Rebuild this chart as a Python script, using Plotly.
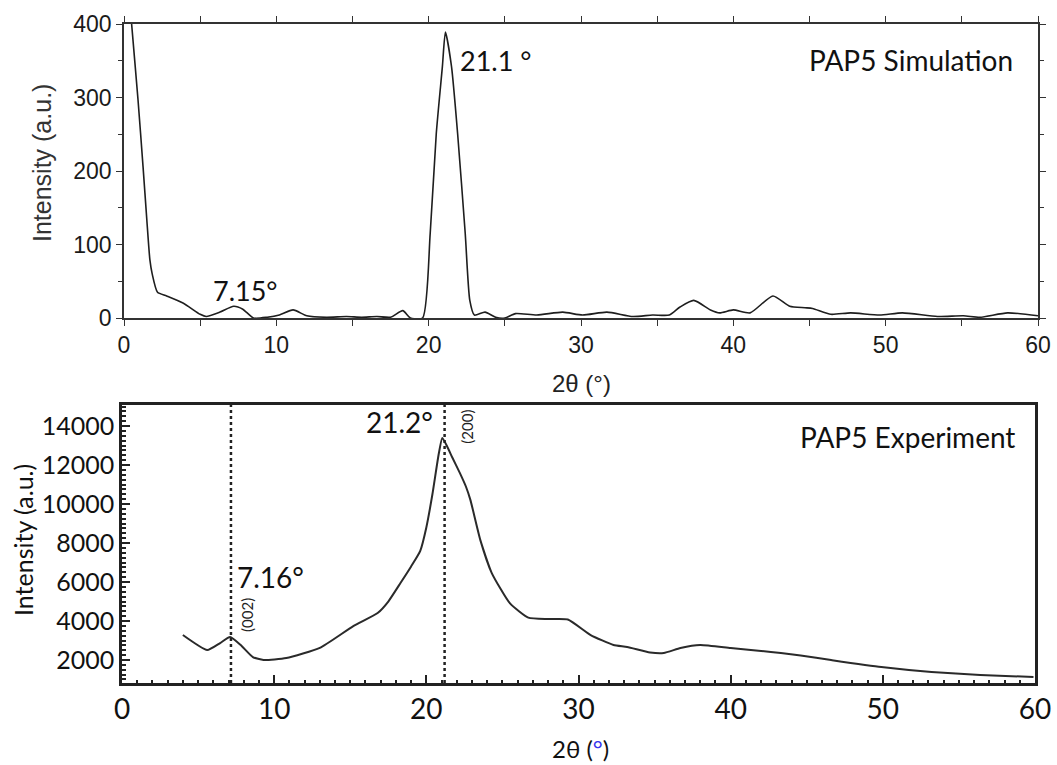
import plotly.graph_objects as go

# PAP5 simulated pattern
sim_x = [0.35, 0.5, 0.92, 1.25, 1.5, 1.7, 1.85, 2.2, 2.8, 3.9, 5.0, 5.4, 6.3, 7.2, 7.8, 8.5,
         9.4, 10.2, 11.1, 12.0, 13.3, 14.6, 15.6, 16.6, 17.5, 18.3, 18.8, 19.6, 20.1, 20.5,
         20.9, 21.1, 21.5, 21.9, 22.4, 22.7, 23.0, 23.7, 24.4, 25.0, 25.7, 27.1, 28.8, 30.1,
         31.7, 33.4, 34.7, 35.8, 36.5, 37.4, 38.5, 39.1, 40.0, 41.1, 42.6, 43.7, 44.7, 45.2,
         46.4, 47.7, 49.6, 51.1, 53.4, 55.1, 56.2, 58.0, 60.0]
sim_y = [440, 400, 297, 206, 133, 79, 60, 35, 30, 20, 5, 2, 8, 16, 12, 0,
         1, 4, 11, 3, 1, 2, 1, 2, 1, 10, 0, 0, 115, 251,
         342, 389, 342, 251, 115, 24, 4, 8, 1, 0, 6, 4, 8, 4,
         8, 2, 4, 4, 15, 24, 11, 7, 11, 7, 30, 16, 14, 13,
         5, 7, 4, 7, 2, 3, 1, 7, 3]

# PAP5 measured pattern
exp_x = [4.0, 5.6, 6.45, 7.1, 7.8, 8.6, 9.3, 10.8, 13.0, 15.2, 16.8, 17.5, 18.3, 19.0, 19.6,
         20.0, 20.4, 20.8, 21.05, 21.4, 21.7, 22.2, 22.6, 22.9, 23.55, 24.3, 25.5, 26.7,
         28.0, 29.3, 30.8, 32.3, 33.2, 34.7, 35.6, 36.7, 38.0, 40.0, 42.0, 43.3, 44.6, 46.6,
         49.9, 53.2, 56.4, 59.9]
exp_y = [3280, 2510, 2870, 3180, 2770, 2150, 2000, 2100, 2620, 3740, 4410, 5000, 5950, 6800, 7600,
         8800, 10500, 12500, 13390, 12900, 12400, 11600, 10900, 10200, 8150, 6460, 4900, 4170,
         4100, 4080, 3280, 2770, 2670, 2390, 2360, 2615, 2770, 2615, 2460, 2360, 2230, 2000,
         1640, 1385, 1230, 1130]

sim_peaks = [7.15, 21.1]
exp_peaks = [7.16, 21.2]
exp_hkl = ['(002)', '(200)']

W, H = 1057, 765
ARIAL = 'Liberation Sans'
CALIBRI = 'Lato'


def px(x):
    return x / W


def py(y):
    return 1 - y / H


fig = go.Figure()
fig.add_trace(go.Scatter(x=sim_x, y=sim_y, mode='lines', line=dict(color='#1e1e1e', width=1.6, shape='spline', smoothing=0.6),
                         xaxis='x', yaxis='y', showlegend=False))
fig.add_trace(go.Scatter(x=exp_x, y=exp_y, mode='lines', line=dict(color='#2a2a2a', width=2, shape='spline', smoothing=0.5),
                         xaxis='x2', yaxis='y2', showlegend=False))

fig.update_layout(
    width=W,
    height=H,
    margin=dict(l=0, r=0, t=0, b=0),
    paper_bgcolor='white',
    plot_bgcolor='white',
    xaxis=dict(
        domain=[px(124), px(1038)],
        range=[0, 60],
        anchor='y',
        automargin=False,
        showgrid=False,
        zeroline=False,
        showline=True,
        linecolor='#333',
        linewidth=1.5,
        mirror='allticks',
        ticks='outside',
        ticklen=6,
        tickwidth=1.2,
        tickcolor='#333',
        dtick=10,
        minor=dict(dtick=5, ticks='outside', ticklen=6, tickcolor='#333', tickwidth=1.2),
        tickfont=dict(family=ARIAL, size=23, color='#1a1a1a'),
    ),
    yaxis=dict(
        domain=[py(318), py(24)],
        range=[0, 400],
        anchor='x',
        automargin=False,
        showgrid=False,
        zeroline=False,
        showline=True,
        linecolor='#333',
        linewidth=1.5,
        mirror='allticks',
        ticks='outside',
        ticklen=6,
        tickwidth=1.2,
        tickcolor='#333',
        dtick=100,
        minor=dict(dtick=50, ticks='outside', ticklen=4, tickcolor='#333', tickwidth=1.2),
        tickfont=dict(family=ARIAL, size=23, color='#1a1a1a'),
    ),
    xaxis2=dict(
        domain=[px(122), px(1035)],
        range=[0, 60],
        anchor='y2',
        automargin=False,
        showgrid=False,
        zeroline=False,
        showline=True,
        linecolor='#222',
        linewidth=2.5,
        mirror=True,
        ticks='inside',
        ticklen=8,
        tickwidth=2,
        tickcolor='#222',
        dtick=10,
        minor=dict(dtick=1, ticks='inside', ticklen=3, tickcolor='#222', tickwidth=2),
        tickfont=dict(family=CALIBRI, size=28, color='#111'),
    ),
    yaxis2=dict(
        domain=[py(683), py(405)],
        range=[820, 15080],
        anchor='x2',
        automargin=False,
        showgrid=False,
        zeroline=False,
        showline=True,
        linecolor='#222',
        linewidth=2.5,
        mirror=True,
        ticks='inside',
        ticklen=8,
        tickwidth=2,
        tickcolor='#222',
        dtick=2000,
        tickformat='d',
        minor=dict(dtick=250, ticks='inside', ticklen=4, tickcolor='#222', tickwidth=1.5),
        tickfont=dict(family=CALIBRI, size=25, color='#111'),
    ),
)

# dotted guide lines at the measured peaks
for p in exp_peaks:
    fig.add_shape(type='line', xref='x2', yref='y2 domain', x0=p, x1=p, y0=0, y1=1,
                  line=dict(color='#222', width=2.5, dash='dot'))

ann = []
# panel labels
ann.append(dict(text='PAP5 Simulation', xref='x', yref='y', x=58.5, y=351, xanchor='right', yanchor='middle',
                font=dict(family=CALIBRI, size=28, color='#111'), showarrow=False))
ann.append(dict(text='PAP5 Experiment', xref='x2', yref='y2', x=58.8, y=13436, xanchor='right', yanchor='middle',
                font=dict(family=CALIBRI, size=28, color='#111'), showarrow=False))
# simulated peak labels
ann.append(dict(text=f'{sim_peaks[1]} °', xref='x', yref='y', x=21.9, y=351, xanchor='left', yanchor='middle',
                font=dict(family=CALIBRI, size=27, color='#111'), showarrow=False))
ann.append(dict(text=f'{sim_peaks[0]}°', xref='x', yref='y', x=7.98, y=38, xanchor='center', yanchor='middle',
                font=dict(family=CALIBRI, size=27, color='#111'), showarrow=False))
# measured peak labels
ann.append(dict(text=f'{exp_peaks[0]}°', xref='x2', yref='y2', x=exp_peaks[0] + 0.25, y=6256, xanchor='left', yanchor='middle',
                font=dict(family=CALIBRI, size=28, color='#111'), showarrow=False))
ann.append(dict(text=f'{exp_peaks[1]}°', xref='x2', yref='y2', x=exp_peaks[1] - 0.6, y=14205, xanchor='right', yanchor='middle',
                font=dict(family=CALIBRI, size=28, color='#111'), showarrow=False))
ann.append(dict(text=exp_hkl[0], xref='x2', yref='y2', x=exp_peaks[0] + 1.05, y=4308, textangle=-90,
                xanchor='center', yanchor='middle', font=dict(family=CALIBRI, size=15, color='#222'), showarrow=False))
ann.append(dict(text=exp_hkl[1], xref='x2', yref='y2', x=exp_peaks[1] + 1.45, y=13950, textangle=-90,
                xanchor='center', yanchor='middle', font=dict(family=CALIBRI, size=15, color='#222'), showarrow=False))
# axis titles
ann.append(dict(text='2θ (°)', xref='paper', yref='paper', x=px(581), y=py(383), xanchor='center', yanchor='middle',
                font=dict(family=ARIAL, size=24, color='#222'), showarrow=False))
ann.append(dict(text='Intensity (a.u.)', xref='paper', yref='paper', x=px(42), y=py(163), textangle=-90,
                xanchor='center', yanchor='middle', font=dict(family=ARIAL, size=25, color='#333'), showarrow=False))
ann.append(dict(text='2θ (<span style="color:#3333ee">°</span>)', xref='paper', yref='paper', x=px(580), y=py(748),
                xanchor='center', yanchor='middle', font=dict(family=CALIBRI, size=24, color='#111'), showarrow=False))
ann.append(dict(text='Intensity (a.u.)', xref='paper', yref='paper', x=px(23), y=py(540), textangle=-90,
                xanchor='center', yanchor='middle', font=dict(family=CALIBRI, size=25, color='#111'), showarrow=False))
fig.update_layout(annotations=ann)

# the page's default body margin would push the figure 8 px off the window
fig.write_html('out.html', config=dict(displayModeBar=False),
               post_script="document.body.style.margin='0';")
